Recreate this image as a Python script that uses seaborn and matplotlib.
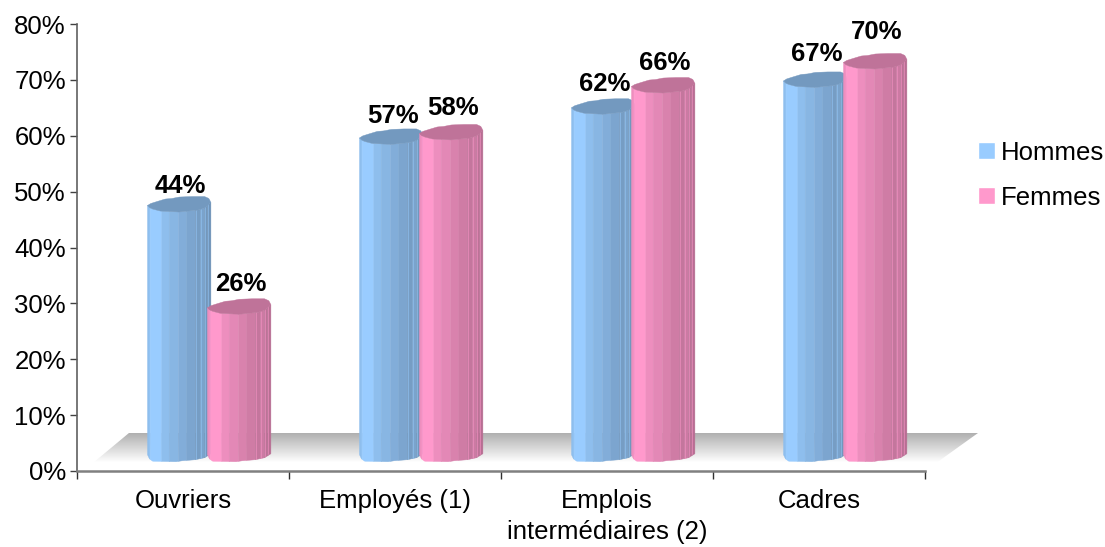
import numpy as np
import pandas as pd
import seaborn as sns
import matplotlib.pyplot as plt
from matplotlib.colors import to_rgb
from matplotlib.patches import Polygon
from matplotlib.ticker import FixedLocator

# Data
categories = ["Ouvriers", "Employés (1)", "Emplois\nintermédiaires (2)", "Cadres"]
# printed labels
hommes_labels = [44, 57, 62, 67]
femmes_labels = [26, 58, 66, 70]
# bar heights as drawn
hommes = [45.1, 57.2, 62.6, 67.4]
femmes = [26.8, 58.0, 66.4, 70.7]
y_ticks = [0, 10, 20, 30, 40, 50, 60, 70, 80]

colors = {"Hommes": "#99CCFF", "Femmes": "#FF99CC"}

df = pd.DataFrame({"categorie": categories, "Hommes": hommes, "Femmes": femmes})
df = df.melt(id_vars="categorie", var_name="sexe", value_name="part")

sns.set_theme(style="white")
plt.rcParams["font.family"] = ["Liberation Sans", "DejaVu Sans"]
plt.rcParams["text.color"] = "black"

fig = plt.figure(figsize=(11.05, 5.47), dpi=100)
ax = fig.add_axes([77 / 1105, 1 - 471 / 547, 848 / 1105, 447 / 547])

sns.barplot(data=df, x="categorie", y="part", hue="sexe", palette=colors,
            width=0.566, gap=0, saturation=1, ax=ax)

# pixel sizes, the cylinders are shaped in pixels
px_x = 1 / 212
px_y = 1 / 5.59
depth_x = 25.7 * px_x   # fake 3d shift of the bars
depth_y = 2.5           # same in y, the bars stand on the floor
base_level = 3.0
widen = 63.4 / 60

# label height above the bar, in pixels
lift = [[19, 21, 23, 26], [23, 25, 23, 30]]

# facets of the cylinder, from left to right
facet_edges = np.array([0, 8, 43, 65, 93, 118, 143, 158, 171, 180, 190]) / 190
facet_shade = [0.93, 1.0, 0.93, 0.89, 0.85, 0.81, 0.77, 0.80, 0.74, 0.72]
light_lines = [0.03, 0.78, 0.85, 0.92, 0.97]

# outline of the bar ends (x as part of width, y in pixels)
front_x = [0, 0.03, 0.08, 0.20, 0.50, 0.65, 0.80, 0.90, 1]
front_y = [0, -2, -3.5, -5.5, -6.5, -5.5, -4.5, -2.5, 3]
back_x = [0, 0.05, 0.15, 0.28, 0.38, 0.50, 0.70, 0.90, 0.97, 1]
back_y = [0, 2, 4, 6.5, 7, 8.5, 9, 9, 7, 3]
base_x = [0, 0.03, 0.08, 0.45, 0.50, 0.55, 0.75, 0.90, 1]
base_y = [0, -4, -6.5, -7, -6.5, -6, -5, -3, 1]


def draw_cylinder(x0, width, top, color):
    rgb = np.array(to_rgb(color))
    for i, shade in enumerate(facet_shade):
        part = np.linspace(facet_edges[i], facet_edges[i + 1], 12)
        xs = x0 + part * width
        y_top = top + np.interp(part, front_x, front_y) * px_y
        y_low = base_level + np.interp(part, base_x, base_y) * px_y
        ax.fill_between(xs, y_low, y_top, color=rgb * shade, lw=0.3, zorder=3)
    for part in light_lines:
        y_top = top + np.interp(part, front_x, front_y) * px_y
        y_low = base_level + np.interp(part, base_x, base_y) * px_y
        ax.plot([x0 + part * width] * 2, [y_low, y_top], color=rgb * 0.97, lw=0.5,
                alpha=0.8, zorder=3)
    part = np.linspace(0, 1, 60)
    xs = x0 + part * width
    ax.fill_between(xs, top + np.interp(part, front_x, front_y) * px_y,
                    top + np.interp(part, back_x, back_y) * px_y,
                    color=rgb * 0.75, lw=0.3, zorder=3)


# bars of the barplot become cylinders
for k, (container, labels) in enumerate(zip(ax.containers, [hommes_labels, femmes_labels])):
    for j, (bar, label) in enumerate(zip(container, labels)):
        bar.set_visible(False)
        width = bar.get_width() * widen
        center = bar.get_x() + bar.get_width() / 2 + depth_x
        top = bar.get_height() + depth_y
        draw_cylinder(center - width / 2, width, top, bar.get_facecolor())
        ax.text(center + 2 * px_x, top + lift[k][j] * px_y, f"{label}%", ha="center",
                va="center", fontsize=18.5, fontweight="bold", color="black", zorder=5)

# floor
ramp = np.r_[np.linspace(0.69, 1, 30), np.ones(8)].reshape(-1, 1)
im = ax.imshow(ramp, cmap="gray", vmin=0, vmax=1, aspect="auto", zorder=1,
               extent=(-0.5, 3.75, 0, 6.8), interpolation="bilinear")
floor = Polygon([(-0.47, 0), (-0.255, 6.8), (3.75, 6.8), (3.5, 0)],
                transform=ax.transData, closed=True)
im.set_clip_box(fig.bbox)
im.set_clip_path(floor)

ax.set_xlim(-0.5, 3.5)
ax.set_ylim(0, 80)

# axes
ax.set_xlabel("")
ax.set_ylabel("")
ax.set_yticks(y_ticks)
ax.set_yticklabels([f"{t}%" for t in y_ticks], fontsize=18.5, color="black")
ax.set_xticks(range(len(categories)))
ax.set_xticklabels(categories, fontsize=18.5, color="black", linespacing=1.38)
ax.xaxis.set_minor_locator(FixedLocator([-0.5, 0.5, 1.5, 2.5, 3.5]))
ax.tick_params(axis="x", which="major", length=0, pad=13)
ax.tick_params(axis="x", which="minor", bottom=True, length=5.5, width=1, color="#303030")
ax.tick_params(axis="y", left=True, length=5, width=1, color="#404040", pad=3)
sns.despine(ax=ax)
ax.spines["left"].set_color("#606060")
ax.spines["left"].set_linewidth(1.2)
ax.spines["bottom"].set_color("#808080")
ax.spines["bottom"].set_linewidth(1.8)
ax.spines["bottom"].set_zorder(6)

# legend
sns.move_legend(ax, "center left", bbox_to_anchor=(1.0625, 0.662), title=None, frameon=False,
                fontsize=18.5, handlelength=0.68, handleheight=0.68, handletextpad=0.22,
                labelspacing=0.82, borderpad=0, borderaxespad=0)

fig.savefig("out.png", dpi=100)
